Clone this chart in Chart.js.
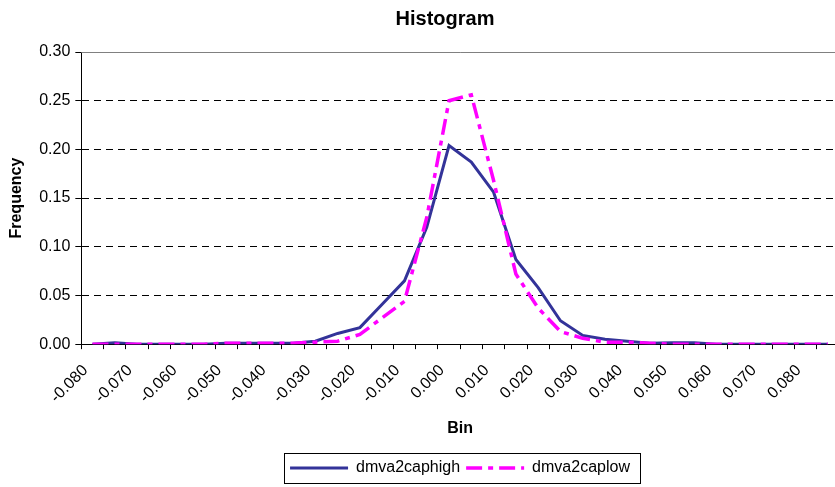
<!DOCTYPE html>
<html>
<head>
<meta charset="utf-8">
<script src="https://cdn.jsdelivr.net/npm/chart.js@4"></script>
<style>
  body { margin: 0; background: #fff; overflow: hidden; }
  #wrap { width: 890px; height: 487px; }
</style>
</head>
<body>
<div id="wrap"><canvas id="myChart" width="890" height="487"></canvas></div>
<script>
// bins (category axis), only every other one gets a label
const bins = ["-0.080", "-0.075", "-0.070", "-0.065", "-0.060", "-0.055", "-0.050", "-0.045",
  "-0.040", "-0.035", "-0.030", "-0.025", "-0.020", "-0.015", "-0.010", "-0.005",
  "0.000", "0.005", "0.010", "0.015", "0.020", "0.025", "0.030", "0.035",
  "0.040", "0.045", "0.050", "0.055", "0.060", "0.065", "0.070", "0.075",
  "0.080", "0.085"];

const capHigh = [0, 0.0015, 0, 0, 0, 0, 0.001, 0.001, 0.001, 0.001, 0.003, 0.011, 0.017, 0.041,
  0.065, 0.12, 0.204, 0.187, 0.156, 0.087, 0.058, 0.024, 0.009, 0.005, 0.003, 0.001,
  0.0015, 0.0015, 0, 0, 0, 0, 0, 0];

const capLow = [0, 0, 0, 0, 0, 0, 0.001, 0.001, 0.001, 0.001, 0.002, 0.003, 0.01, 0.027,
  0.044, 0.13, 0.25, 0.256, 0.168, 0.072, 0.037, 0.013, 0.006, 0.002, 0.002, 0.001,
  0, 0, 0, 0, 0, 0, 0, 0];

const seriesNames = ["dmva2caphigh", "dmva2caplow"];
const yTicks = [0, 0.05, 0.10, 0.15, 0.20, 0.25, 0.30];

const font = "Liberation Sans, Arial, sans-serif";
Chart.defaults.font.family = font;
Chart.defaults.color = "#000";

// gray line along the top of the plot area + box round the legend
const boxes = {
  id: "boxes",
  afterUpdate(chart) {
    // legend sits centred under the plot, not under the whole chart
    const lg = chart.legend;
    const shift = 15;
    lg.left += shift;
    lg.right += shift;
    lg.legendHitBoxes.forEach(h => { h.left += shift; });
  },
  afterDraw(chart) {
    const ctx = chart.ctx;
    const a = chart.chartArea;
    ctx.save();
    ctx.strokeStyle = "#808080";
    ctx.lineWidth = 1;
    ctx.beginPath();
    ctx.moveTo(a.left, a.top + 0.5);
    ctx.lineTo(a.right, a.top + 0.5);
    ctx.stroke();

    const hb = chart.legend.legendHitBoxes;
    if (hb && hb.length) {
      let l = Infinity, r = -Infinity, t = Infinity, b = -Infinity;
      hb.forEach(h => {
        l = Math.min(l, h.left); r = Math.max(r, h.left + h.width);
        t = Math.min(t, h.top); b = Math.max(b, h.top + h.height);
      });
      ctx.strokeStyle = "#000";
      ctx.strokeRect(Math.round(l - 6) + 0.5, Math.round(t - 7) + 0.5, Math.round(r - l + 16), Math.round(b - t + 14));
    }
    ctx.restore();
  }
};

const config = {
  type: "line",
  data: {
    labels: bins,
    datasets: [{
      label: seriesNames[0],
      data: capHigh,
      borderColor: "#333399",
      backgroundColor: "#333399",
      borderWidth: 3,
      pointRadius: 0,
      tension: 0,
      order: 1
    }, {
      label: seriesNames[1],
      data: capLow,
      borderColor: "#FF00FF",
      backgroundColor: "#FF00FF",
      borderWidth: 3.5,
      borderDash: [16, 6, 5, 6],
      pointRadius: 0,
      tension: 0,
      order: 0
    }]
  },
  options: {
    responsive: false,
    animation: false,
    layout: { padding: { left: 0, right: 0, top: 0, bottom: 1 } },
    plugins: {
      title: {
        display: true,
        text: "Histogram",
        font: { size: 20, weight: "bold" },
        padding: { top: 7, bottom: 21 }
      },
      legend: {
        position: "bottom",
        labels: {
          usePointStyle: true,
          pointStyle: "line",
          pointStyleWidth: 58,
          boxHeight: 3,
          padding: 6,
          font: { size: 16 },
          sort: (a, b) => a.datasetIndex - b.datasetIndex,
          // keep each series' dash pattern in its legend line
          generateLabels: chart => {
            const items = Chart.defaults.plugins.legend.labels.generateLabels(chart);
            items.forEach(it => {
              const ds = chart.data.datasets[it.datasetIndex];
              it.lineDash = ds.borderDash || [];
              it.lineWidth = ds.borderWidth;
              it.strokeStyle = ds.borderColor;
            });
            return items;
          }
        }
      },
      tooltip: { enabled: false }
    },
    scales: {
      x: {
        type: "category",
        offset: true,
        grid: { offset: true, drawOnChartArea: false, color: "#000", tickLength: 5 },
        border: { color: "#000", width: 1 },
        ticks: {
          autoSkip: false,
          minRotation: 45,
          maxRotation: 45,
          padding: 12,
          labelOffset: -7,
          font: { size: 16 },
          callback: (v, i) => (i % 2 === 0 ? bins[i] : "")
        },
        title: { display: true, text: "Bin", font: { size: 16, weight: "bold" }, padding: { top: 0, bottom: 16 } }
      },
      y: {
        min: 0,
        max: 0.3,
        afterBuildTicks: axis => { axis.ticks = yTicks.map(v => ({ value: v })); },
        grid: {
          color: c => (c.index === yTicks.length - 1 ? "rgba(0,0,0,0)" : "#000"),
          tickColor: "#000",
          tickLength: 6
        },
        border: { color: "#000", width: 1, dash: [7, 5] },
        ticks: { font: { size: 16 }, padding: 5, callback: v => v.toFixed(2) },
        title: { display: true, text: "Frequency", font: { size: 16, weight: "bold" }, padding: { top: 7, bottom: 8 } }
      },
      // empty strip on the right: the plot runs past the picture's edge
      yRight: {
        position: "right",
        display: true,
        grid: { display: false },
        border: { display: false },
        ticks: { display: false },
        afterFit: axis => { axis.width = 51; }
      }
    }
  },
  plugins: [boxes]
};

new Chart(document.getElementById("myChart"), config);
</script>
</body>
</html>
